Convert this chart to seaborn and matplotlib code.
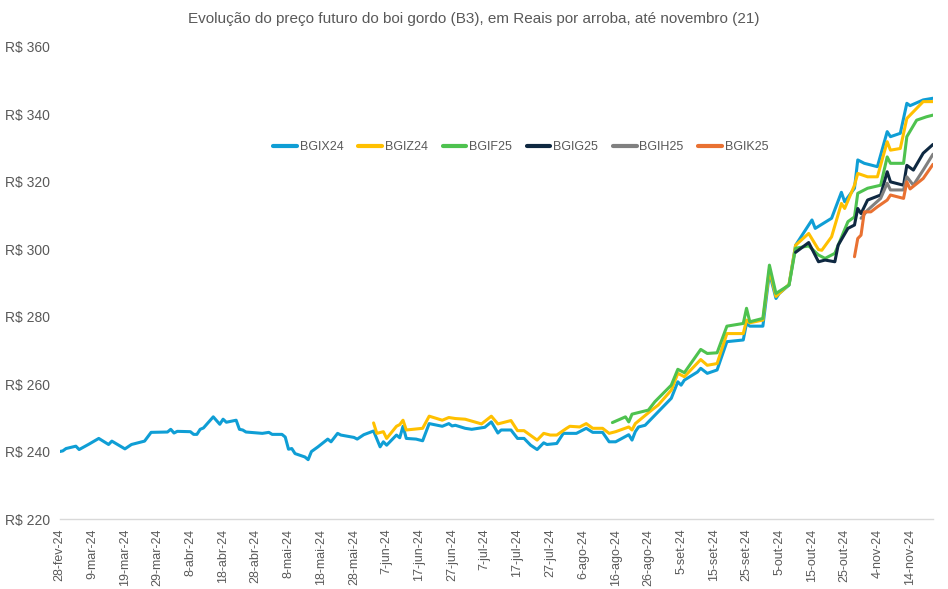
import pandas as pd
import matplotlib
matplotlib.use("Agg")
import matplotlib.pyplot as plt
import seaborn as sns

sns.set_theme(style="white")
plt.rcParams["font.family"] = ["Liberation Sans", "DejaVu Sans"]

# ---- data (R$ per arroba) ----
ano = "2024-"

bgix24_datas = ["02-28", "02-29", "03-01", "03-04", "03-05", "03-08", "03-11", "03-14", "03-15", "03-19", "03-21", "03-25", "03-27",
                "04-01", "04-02", "04-03", "04-04", "04-08", "04-09", "04-10", "04-11", "04-12", "04-15", "04-17", "04-18", "04-19", "04-22", "04-23", "04-24", "04-25", "04-30",
                "05-02", "05-03", "05-06", "05-07", "05-08", "05-09", "05-10", "05-13", "05-14", "05-15", "05-17", "05-20", "05-21", "05-23", "05-24", "05-28", "05-29", "05-31",
                "06-03", "06-05", "06-06", "06-07", "06-10", "06-11", "06-12", "06-13", "06-16", "06-18", "06-20", "06-24", "06-26", "06-27", "06-28",
                "07-01", "07-03", "07-05", "07-07", "07-09", "07-11", "07-12", "07-15", "07-17", "07-19", "07-21", "07-23", "07-25", "07-26", "07-29", "07-31",
                "08-04", "08-07", "08-09", "08-12", "08-14", "08-16", "08-20", "08-21", "08-22", "08-23", "08-25", "08-26", "08-27", "08-29",
                "09-02", "09-04", "09-05", "09-06", "09-10", "09-11", "09-13", "09-16", "09-19", "09-24", "09-25", "09-26", "09-30",
                "10-02", "10-04", "10-05", "10-08", "10-10", "10-15", "10-16", "10-21", "10-24", "10-25", "10-28", "10-29", "10-31",
                "11-04", "11-07", "11-08", "11-11", "11-13", "11-14", "11-18", "11-21"]
bgix24_valores = [240.0, 240.2, 240.9, 241.6, 240.6, 242.2, 243.9, 242.1, 243.1, 240.8, 242.1, 243.1, 245.7,
                  245.8, 246.6, 245.5, 246.0, 245.9, 245.1, 245.1, 246.6, 247.0, 250.3, 248.1, 249.6, 248.7, 249.3, 246.6, 246.4, 245.8, 245.4,
                  245.7, 245.1, 245.1, 244.3, 240.7, 240.9, 239.4, 238.4, 237.6, 240.0, 241.4, 243.7, 242.9, 245.4, 244.9, 244.2, 243.7, 245.0,
                  246.1, 241.4, 242.9, 241.9, 244.9, 244.1, 247.5, 243.9, 243.7, 243.2, 248.3, 247.5, 248.3, 247.6, 247.8,
                  246.9, 246.6, 246.9, 247.2, 248.8, 245.5, 246.4, 246.4, 243.9, 243.9, 241.9, 240.6, 242.6, 242.1, 242.4, 245.4,
                  245.4, 246.9, 245.7, 245.7, 242.9, 242.9, 245.0, 243.4, 245.9, 247.3, 247.8, 248.8, 249.8, 251.8,
                  255.8, 260.7, 259.7, 261.2, 263.6, 264.7, 263.2, 264.2, 272.6, 273.1, 278.0, 277.2, 277.2,
                  293.0, 285.4, 286.9, 289.4, 301.2, 308.7, 306.2, 309.2, 316.9, 314.1, 318.1, 326.5, 325.5,
                  324.5, 334.9, 333.4, 334.4, 343.3, 342.6, 344.3, 344.8]

bgiz24_datas = ["06-03", "06-04", "06-06", "06-07", "06-10", "06-11", "06-12", "06-13", "06-18", "06-20", "06-24", "06-26", "06-28",
                "07-01", "07-06", "07-09", "07-11", "07-15", "07-17", "07-19", "07-23", "07-25", "07-27", "07-29",
                "08-01", "08-02", "08-05", "08-07", "08-09", "08-12", "08-14", "08-16", "08-20", "08-21", "08-22", "08-27", "08-29",
                "09-02", "09-04", "09-06", "09-11", "09-13", "09-16", "09-19", "09-24", "09-25", "09-26", "09-30",
                "10-02", "10-04", "10-08", "10-10", "10-14", "10-17", "10-18", "10-21", "10-24", "10-25", "10-28", "10-29",
                "11-01", "11-04", "11-07", "11-08", "11-11", "11-13", "11-16", "11-18", "11-21"]
bgiz24_valores = [248.5, 245.4, 245.9, 243.9, 247.5, 248.0, 249.3, 246.4, 246.9, 250.5, 249.3, 250.1, 249.8,
                  249.6, 248.2, 250.5, 248.2, 249.2, 246.2, 246.2, 243.4, 245.4, 244.9, 244.9,
                  246.9, 247.5, 247.3, 248.3, 246.9, 246.9, 245.4, 245.9, 247.3, 246.4, 248.3, 252.3, 253.8,
                  258.2, 263.2, 262.2, 267.3, 265.6, 266.1, 275.0, 275.0, 279.0, 278.2, 279.0,
                  294.0, 286.0, 289.6, 301.2, 304.7, 299.9, 299.7, 303.7, 313.6, 312.1, 319.0, 322.5,
                  321.5, 321.5, 331.9, 329.4, 329.9, 338.8, 341.8, 343.8, 343.8]

bgif25_datas = ["08-15", "08-19", "08-20", "08-21", "08-26", "08-28",
                "09-02", "09-04", "09-06", "09-11", "09-13", "09-16", "09-19", "09-24", "09-25", "09-26", "09-30",
                "10-02", "10-04", "10-08", "10-10", "10-14", "10-17", "10-19", "10-22", "10-26", "10-28", "10-29",
                "11-01", "11-05", "11-07", "11-08", "11-12", "11-13", "11-16", "11-19", "11-21"]
bgif25_valores = [248.6, 250.3, 248.8, 251.1, 252.3, 254.8,
                  259.7, 264.4, 263.4, 270.3, 269.1, 269.3, 277.2, 278.0, 282.5, 278.5, 279.5,
                  295.3, 286.9, 289.4, 300.3, 301.0, 298.3, 297.3, 298.8, 308.2, 309.6, 316.6,
                  318.1, 319.0, 327.4, 325.5, 325.5, 333.4, 338.3, 339.3, 339.8]

bgig25_datas = ["10-10", "10-14", "10-17", "10-19", "10-22", "10-23", "10-26", "10-28", "10-29", "10-30",
                "11-01", "11-05", "11-07", "11-08", "11-12", "11-13", "11-15", "11-18", "11-21"]
bgig25_valores = [299.1, 302.0, 296.3, 296.8, 296.3, 301.2, 306.2, 307.2, 312.1, 310.6,
                  314.6, 316.1, 323.0, 320.0, 319.0, 324.9, 323.5, 328.5, 331.1]

bgih25_datas = ["10-30", "11-01", "11-05", "11-07", "11-08", "11-12", "11-13", "11-15", "11-18", "11-21"]
bgih25_valores = [309.2, 311.6, 315.1, 319.6, 317.6, 317.6, 321.5, 319.0, 323.5, 328.2]

bgik25_datas = ["10-28", "10-29", "10-30", "10-31", "11-02", "11-04", "11-07", "11-08", "11-12", "11-13", "11-14", "11-18", "11-21"]
bgik25_valores = [297.8, 303.2, 304.2, 311.1, 311.1, 312.6, 314.6, 316.1, 315.1, 320.0, 317.9, 321.0, 325.2]

contratos = ["BGIX24", "BGIZ24", "BGIF25", "BGIG25", "BGIH25", "BGIK25"]
cores = ["#0F9ED5", "#FFC000", "#4EC24F", "#0E2841", "#808080", "#E97132"]
meses = ["jan", "fev", "mar", "abr", "mai", "jun", "jul", "ago", "set", "out", "nov", "dez"]
yticks = [220, 240, 260, 280, 300, 320, 340, 360]

# long-form table for seaborn
series = [(bgix24_datas, bgix24_valores), (bgiz24_datas, bgiz24_valores), (bgif25_datas, bgif25_valores),
          (bgig25_datas, bgig25_valores), (bgih25_datas, bgih25_valores), (bgik25_datas, bgik25_valores)]
partes = []
for nome, (datas, valores) in zip(contratos, series):
    partes.append(pd.DataFrame({"data": pd.to_datetime([ano + d for d in datas]),
                                "preco": valores, "contrato": nome}))
df = pd.concat(partes, ignore_index=True)

fig = plt.figure(figsize=(9.48, 5.89), dpi=100)
ax = fig.add_axes([59.5 / 948, 1 - 519 / 589, (933 - 59.5) / 948, (519 - 47) / 589])

sns.lineplot(data=df, x="data", y="preco", hue="contrato", hue_order=contratos,
             palette=dict(zip(contratos, cores)), linewidth=2.2, estimator=None,
             sort=True, ax=ax)

texto = "#595959"
ax.set_xlim(pd.Timestamp("2024-02-28"), pd.Timestamp("2024-11-21"))
ax.set_ylim(220, 360)
ax.set_yticks(yticks)
ax.set_yticklabels([f"R$ {v}" for v in yticks], fontsize=10, color=texto)
ax.tick_params(axis="y", length=0, pad=7)

xt = pd.date_range("2024-02-28", "2024-11-21", freq="10D")
ax.set_xticks(xt)
ax.set_xticklabels([f"{d.day}-{meses[d.month - 1]}-{d.strftime('%y')}" for d in xt],
                   rotation=90, fontsize=9, color=texto)
ax.tick_params(axis="x", length=5, width=0.8, color="#D9D9D9", pad=2, direction="out")

for s in ["top", "right", "left"]:
    ax.spines[s].set_visible(False)
ax.spines["bottom"].set_color("#D9D9D9")
ax.spines["bottom"].set_linewidth(1)
ax.grid(False)
ax.set_xlabel("")
ax.set_ylabel("")

leg = ax.legend(loc="center", bbox_to_anchor=(0.528, 0.788), ncol=6, frameon=False,
                fontsize=9, handlelength=1.9, handletextpad=0.2, columnspacing=1.2)
for t in leg.get_texts():
    t.set_color(texto)
for h in leg.get_lines():
    h.set_linewidth(3)

fig.text(474 / 948, 1 - 19 / 589, "Evolução do preço futuro do boi gordo (B3), em Reais por arroba, até novembro (21)",
         ha="center", va="center", fontsize=11, color=texto)

fig.savefig("out.png", dpi=100, facecolor="white")
